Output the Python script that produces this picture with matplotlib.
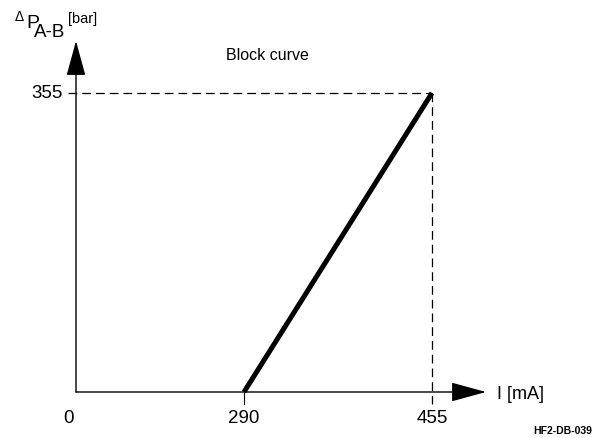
import matplotlib.pyplot as plt

# block curve data (schematic)
current_ma = [290, 455]
pressure_bar = [0, 355]
x_ticks = [290, 455]
y_ticks = [355]

plt.rcParams['font.family'] = ['Liberation Sans', 'DejaVu Sans']

W, H = 604, 439
fig = plt.figure(figsize=(W / 100, H / 100), dpi=100)

# axes box in pixels: origin at (76, 393)
left, right, bottom, top = 76, 500, 393, 40
ax = fig.add_axes([left / W, (H - bottom) / H, (right - left) / W, (bottom - top) / H])
mA_per_px = 165 / 188
bar_per_px = 355 / 299
x0 = 290 - (244 - left) * mA_per_px
ax.set_xlim(x0, 290 + (right - 244) * mA_per_px)
ax.set_ylim(0, (bottom - top) * bar_per_px)
ax.axis('off')

# axis arrows
arrow = dict(arrowstyle='-|>,head_length=1.1,head_width=0.3', mutation_scale=20,
             lw=1.0, color='black', shrinkA=0, shrinkB=0)
ax.annotate('', xy=((486 - left) / (right - left), 0), xytext=(0, 0),
            xycoords='axes fraction', arrowprops=arrow, annotation_clip=False)
ax.annotate('', xy=(0, (bottom - 42) / (bottom - top)), xytext=(0, 0),
            xycoords='axes fraction', arrowprops=arrow, annotation_clip=False)

# block curve
ax.plot(current_ma, pressure_bar, color='black', lw=3.6, solid_capstyle='butt', clip_on=False)

# dashed guides
dash = dict(color='black', lw=0.9, dashes=(7, 4), clip_on=False)
ax.plot([x0 - 8 * mA_per_px, current_ma[1]], [pressure_bar[1], pressure_bar[1]], **dash)
ax.plot([current_ma[1], current_ma[1]], [pressure_bar[1], -12 * bar_per_px], **dash)
ax.plot([current_ma[0], current_ma[0]], [0, -12 * bar_per_px], color='black', lw=0.8, clip_on=False)

# tick labels
for v in x_ticks:
    ax.annotate(str(v), xy=(v, 0), xytext=(0, -17), textcoords='offset pixels',
                ha='center', va='top', fontsize=13.5, annotation_clip=False)
ax.annotate('0', xy=(x0, 0), xytext=(-8, -17), textcoords='offset pixels',
            ha='center', va='top', fontsize=13.5, annotation_clip=False)
for v in y_ticks:
    ax.annotate(str(v), xy=(x0, v), xytext=(-13, 0), textcoords='offset pixels',
                ha='right', va='center', fontsize=13.5, annotation_clip=False)

# labels
fig.text(497 / W, (H - 395) / H, 'I [mA]', ha='left', va='center', fontsize=13)
fig.text(226 / W, (H - 55) / H, 'Block curve', ha='left', va='center', fontsize=11.5)
fig.text(15 / W, (H - 21) / H, 'Δ', ha='left', va='baseline', fontsize=10)
fig.text(26 / W, (H - 28) / H, 'P', ha='left', va='baseline', fontsize=14)
fig.text(34 / W, (H - 37) / H, 'A-B', ha='left', va='baseline', fontsize=13.5)
fig.text(68 / W, (H - 23) / H, '[bar]', ha='left', va='baseline', fontsize=10.5)
fig.text(592 / W, (H - 431) / H, 'HF2-DB-039', ha='right', va='center', fontsize=7.5,
         fontweight='bold')

fig.savefig('out.png', dpi=100)
